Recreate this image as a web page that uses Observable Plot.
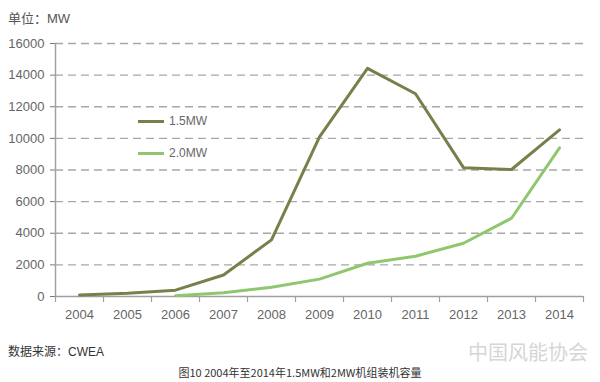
<!DOCTYPE html>
<html>
<head>
<meta charset="utf-8">
<script src="https://cdn.jsdelivr.net/npm/d3@7"></script>
<script src="https://cdn.jsdelivr.net/npm/@observablehq/plot@0.6"></script>
<style>
  html, body { margin: 0; padding: 0; background: #fff; }
  #wrap { position: relative; width: 600px; height: 382px; overflow: hidden; font-family: "Liberation Sans", Arial, sans-serif; }
  #chart { position: absolute; left: 0; top: 0; }
  .abs { position: absolute; white-space: nowrap; }
  #unit { left: 8px; top: 8px; font-size: 13px; color: #555; font-family: "Liberation Sans", "Noto Sans CJK SC", sans-serif; }
  #source { left: 8px; top: 342px; font-size: 12px; color: #333; font-family: "Liberation Sans", "Noto Sans CJK SC", sans-serif; }
  #caption { left: 0; width: 600px; top: 364px; text-align: center; font-size: 11px; color: #333; font-family: "Noto Sans CJK SC", sans-serif; }
  #wm { left: 468px; top: 337px; font-size: 20px; color: #d6d6d6; font-family: "Noto Sans CJK SC", sans-serif; }
  .leg { position: absolute; font-size: 12px; color: #666; display: flex; align-items: center; }
  .leg span.sw { display: inline-block; width: 26px; height: 3px; margin-right: 5px; }
</style>
</head>
<body>
<div id="wrap">
  <div id="chart"></div>
  <div class="abs" id="unit">单位：MW</div>
  <div class="abs" id="source">数据来源：CWEA</div>
  <div class="abs" id="caption">图10 2004年至2014年1.5MW和2MW机组装机容量</div>
  <div class="abs" id="wm">中国风能协会</div>
  <div id="legend"></div>
</div>
<script>
// ---- data ----
const years = [2004, 2005, 2006, 2007, 2008, 2009, 2010, 2011, 2012, 2013, 2014];
const mw15 = [100, 200, 400, 1360, 3580, 10100, 14430, 12820, 8150, 8030, 10540];
const mw20 = [null, null, 50, 240, 580, 1100, 2100, 2550, 3370, 4950, 9400];
const seriesNames = ["1.5MW", "2.0MW"];
const seriesColors = ["#76804a", "#8fc76e"];
const yTicks = [0, 2000, 4000, 6000, 8000, 10000, 12000, 14000, 16000];

const rows15 = years.map((y, i) => ({year: y, value: mw15[i]})).filter(d => d.value != null);
const rows20 = years.map((y, i) => ({year: y, value: mw20[i]})).filter(d => d.value != null);
const xDomain = [years[0] - 0.5, years[years.length - 1] + 0.5];
const edges = [...years.map(y => y - 0.5), years[years.length - 1] + 0.5];

const chart = Plot.plot({
  width: 600,
  height: 330,
  marginTop: 43,
  marginBottom: 34,
  marginLeft: 55,
  marginRight: 17,
  style: {fontFamily: "'Liberation Sans', Arial, sans-serif", fontSize: "13px", color: "#777", background: "transparent"},
  x: {type: "linear", domain: xDomain, axis: null},
  y: {domain: [yTicks[0], yTicks[yTicks.length - 1]], ticks: yTicks, tickSize: 5, tickPadding: 6, label: null, tickFormat: d => String(d)},
  marks: [
    Plot.ruleY(yTicks.slice(1), {stroke: "#a8a8a8", strokeWidth: 1.4, strokeDasharray: "8,5"}),
    Plot.ruleX([xDomain[0]], {stroke: "#a0a0a0", strokeWidth: 1.5}),
    Plot.ruleY([0], {stroke: "#a0a0a0", strokeWidth: 1.5}),
    Plot.ruleX(edges, {x: d => d, y1: 0, y2: 0, insetTop: 6, insetBottom: 0, stroke: "#a0a0a0", strokeWidth: 1.2}),
    Plot.text(years, {x: d => d, y: 0, dy: 18, text: d => String(d), fill: "#666", fontSize: 13}),
    Plot.line(rows20, {x: "year", y: "value", stroke: seriesColors[1], strokeWidth: 3}),
    Plot.line(rows15, {x: "year", y: "value", stroke: seriesColors[0], strokeWidth: 3})
  ]
});
chart.querySelectorAll("g[aria-label='y-axis tick label'] text, g[aria-label='y-axis'] text").forEach(t => t.setAttribute("fill", "#666"));
document.getElementById("chart").appendChild(chart);

// legend (inside plot area)
const legend = document.getElementById("legend");
const legPos = [[138, 114], [138, 146]];
seriesNames.forEach((name, i) => {
  const d = document.createElement("div");
  d.className = "leg";
  d.style.left = legPos[i][0] + "px";
  d.style.top = legPos[i][1] + "px";
  d.innerHTML = `<span class="sw" style="background:${seriesColors[i]}"></span>${name}`;
  legend.appendChild(d);
});
</script>
</body>
</html>
